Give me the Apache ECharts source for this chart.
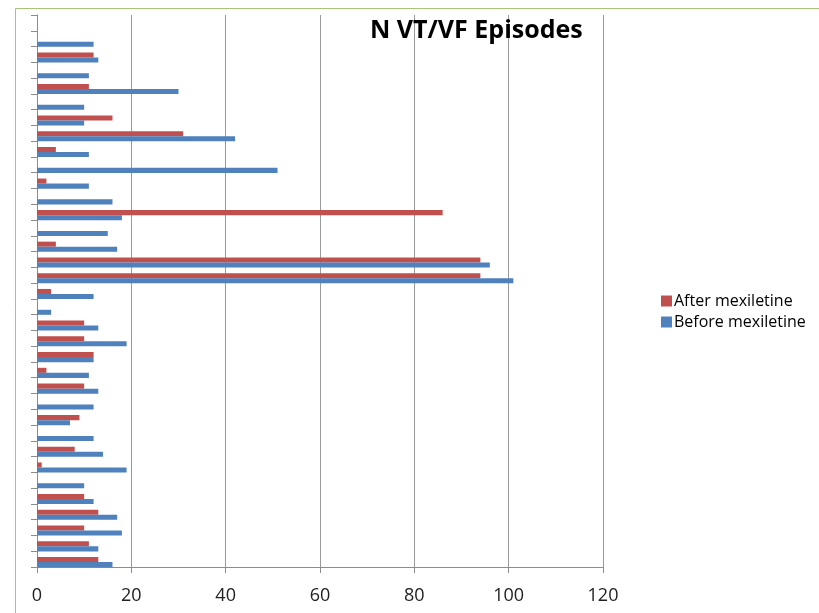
<!DOCTYPE html>
<html>
<head>
<meta charset="utf-8">
<script src="https://cdn.jsdelivr.net/npm/echarts@6/dist/echarts.min.js"></script>
<style>
  html, body { margin: 0; padding: 0; background: #fff; }
  #chart { width: 819px; height: 613px; }
</style>
</head>
<body>
<div id="chart"></div>
<script>
// Patient index, bottom to top (last slot left empty)
const categories = Array.from({ length: 35 }, (_, i) => String(i + 1));

// Episode counts per patient, bottom to top
const beforeMexiletine = [16, 13, 18, 17, 12, 10, 19, 14, 12, 7, 12, 13, 11, 12, 19, 13, 3, 12,
  101, 96, 17, 15, 18, 16, 11, 51, 11, 42, 10, 10, 30, 11, 13, 12, null];
const afterMexiletine = [13, 11, 10, 13, 10, 0, 1, 8, 0, 9, 0, 10, 2, 12, 10, 10, 0, 3,
  94, 94, 4, 0, 86, 0, 2, 0, 4, 31, 16, 0, 11, 0, 12, 0, null];

const xTicks = [0, 20, 40, 60, 80, 100, 120];

const axisColor = '#8c8c8c';
const valueAxisBase = {
  type: 'value',
  min: xTicks[0],
  max: xTicks[xTicks.length - 1],
  interval: xTicks[1] - xTicks[0]
};

const chart = echarts.init(document.getElementById('chart'));
chart.setOption({
  animation: false,
  backgroundColor: '#fff',
  textStyle: { fontFamily: 'Open Sans' },
  title: {
    text: 'N VT/VF Episodes',
    left: 365,
    top: 13,
    textStyle: { fontFamily: 'Open Sans', fontWeight: 'bold', fontSize: 25, color: '#000' }
  },
  legend: {
    orient: 'vertical',
    left: 656,
    top: 288,
    itemWidth: 11,
    itemHeight: 11,
    itemGap: 5,
    icon: 'rect',
    data: ['After mexiletine', 'Before mexiletine'],
    textStyle: { fontFamily: 'Open Sans', fontSize: 16, color: '#000', padding: [0, 0, 0, -3] }
  },
  graphic: [{
    type: 'rect',
    shape: { x: 15.5, y: 8.5, width: 900, height: 700 },
    style: { fill: null, stroke: '#a6c57c', lineWidth: 1 },
    silent: true,
    z: -1
  }],
  // Grid 0 carries the visible axes; grid 1 holds the bars, sitting a touch lower in each row
  grid: [
    { left: 37, top: 15, width: 566, height: 552, containLabel: false },
    { left: 37, top: 18, width: 566, height: 552, containLabel: false }
  ],
  xAxis: [
    Object.assign({}, valueAxisBase, {
      gridIndex: 0,
      axisLine: { show: true, lineStyle: { color: axisColor } },
      axisTick: { show: true, length: 6, lineStyle: { color: axisColor } },
      axisLabel: { fontFamily: 'Open Sans', fontSize: 18, color: '#222', margin: 20 },
      splitLine: { show: true, lineStyle: { color: '#9a9a9a', width: 1 } }
    }),
    Object.assign({}, valueAxisBase, {
      gridIndex: 1,
      show: false,
      splitLine: { show: false }
    })
  ],
  yAxis: [
    {
      type: 'category',
      gridIndex: 0,
      data: categories,
      axisLine: { show: true, lineStyle: { color: axisColor } },
      axisTick: { show: true, length: 6, inside: false, lineStyle: { color: axisColor } },
      axisLabel: { show: false },
      splitLine: { show: false }
    },
    {
      type: 'category',
      gridIndex: 1,
      data: categories,
      show: false,
      splitLine: { show: false }
    }
  ],
  // In each patient row the later measurement sits above the earlier one
  series: [
    {
      name: 'After mexiletine',
      type: 'bar',
      xAxisIndex: 1,
      yAxisIndex: 1,
      data: afterMexiletine,
      itemStyle: { color: '#c0504d' },
      barGap: '0%',
      barCategoryGap: '36%',
      z: 3
    },
    {
      name: 'Before mexiletine',
      type: 'bar',
      xAxisIndex: 1,
      yAxisIndex: 1,
      data: beforeMexiletine,
      itemStyle: { color: '#4f81bd' },
      z: 3
    }
  ]
});
</script>
</body>
</html>
